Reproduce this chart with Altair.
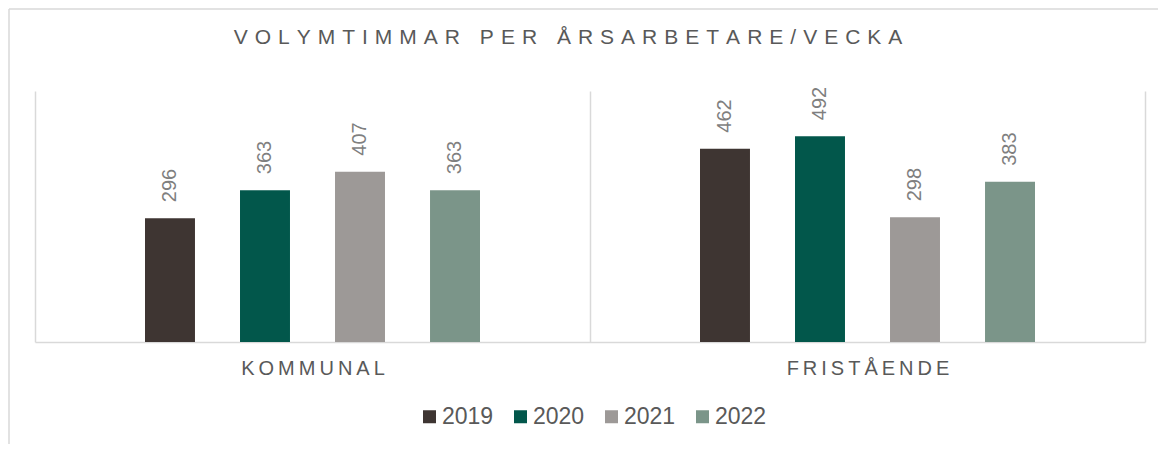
import altair as alt
import pandas as pd

# ---- data ----
groups = ["KOMMUNAL", "FRISTÅENDE"]
years = ["2019", "2020", "2021", "2022"]
kommunal = [296, 363, 407, 363]
fristaende = [462, 492, 298, 383]
colors = ["#3E3532", "#02574B", "#9D9997", "#7B9589"]
title_text = "VOLYMTIMMAR PER ÅRSARBETARE/VECKA"

rows = []
for g, vals in zip(groups, [kommunal, fristaende]):
    for yr, v in zip(years, vals):
        rows.append({"grupp": g, "år": yr, "värde": v})
df = pd.DataFrame(rows)

FONT = "Liberation Sans"
W, H = 1110, 251
GRID = "#d9d9d9"

x = alt.X(
    "grupp:N", sort=groups, title=None,
    scale=alt.Scale(paddingInner=0, paddingOuter=0),
    axis=alt.Axis(
        labelAngle=0, labelFont=FONT, labelFontSize=20, labelColor="#595959",
        labelPadding=16, labelExpr="join(split(datum.label, ''), '\u2009')",
        ticks=False, domainColor=GRID, domainWidth=1.5,
        grid=True, gridColor=GRID, gridWidth=1.5, tickBand="extent",
    ),
)
xoff = alt.XOffset("år:N", sort=years,
                   scale=alt.Scale(range=[110, 445], paddingInner=0.474, paddingOuter=0))
y = alt.Y("värde:Q", scale=alt.Scale(domain=[0, 600], nice=False), axis=None)

base = alt.Chart(df)

bars = base.mark_bar().encode(
    x=x, xOffset=xoff, y=y,
    color=alt.Color(
        "år:N", sort=years,
        scale=alt.Scale(domain=years, range=colors),
        legend=alt.Legend(
            title=None, orient="none", legendX=383, legendY=314,
            direction="horizontal", symbolType="square", symbolSize=169,
            symbolStrokeWidth=0, labelFont=FONT, labelFontSize=23,
            labelColor="#595959", labelOffset=1, columnPadding=15, padding=0,
        ),
    ),
)

labels = base.mark_text(
    angle=270, align="left", baseline="middle", dx=16,
    font=FONT, fontSize=20, color="#7F7F7F",
).encode(x=x, xOffset=xoff, y=y, text="värde:Q")

frame = pd.DataFrame({"k": [0]})
border_top = alt.Chart(frame).mark_rule(color=GRID, strokeWidth=1.5).encode(
    x=alt.value(-26), x2=alt.value(1131), y=alt.value(-82))
border_left = alt.Chart(frame).mark_rule(color=GRID, strokeWidth=1.5).encode(
    x=alt.value(-26), y=alt.value(-82), y2=alt.value(361))

chart = alt.layer(border_top, border_left, bars, labels).properties(
    width=W, height=H,
    padding={"left": 27, "top": 83, "right": 13, "bottom": 102},
    autosize=alt.AutoSizeParams(type="none"),
    title=alt.TitleParams(
        text="\u2004".join(title_text), font=FONT, fontSize=21, color="#595959",
        fontWeight="normal", anchor="middle", frame="group", baseline="alphabetic",
        offset=-57, dx=-22,
    ),
).configure_view(stroke="transparent")

chart.save("out.html", embed_options={"renderer": "svg", "actions": False})
